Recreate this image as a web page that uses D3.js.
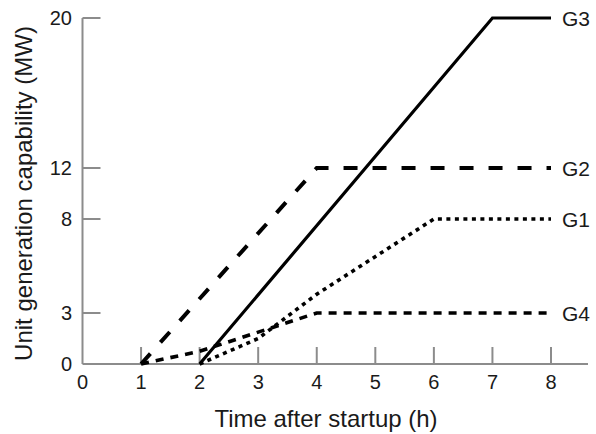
<!DOCTYPE html>
<html>
<head>
<meta charset="utf-8">
<script src="https://cdn.jsdelivr.net/npm/d3@7"></script>
<style>
  html, body { margin: 0; padding: 0; background: #fff; }
  svg { display: block; }
  text { font-family: "Liberation Sans", Arial, Helvetica, sans-serif; fill: #1a1a1a; }
</style>
</head>
<body>
<svg id="chart" width="596" height="434"></svg>
<script>
// ---- data ----
const xTicks = [0, 1, 2, 3, 4, 5, 6, 7, 8];
const yTicks = [0, 3, 8, 12, 20];
const seriesNames = ["G3", "G2", "G1", "G4"];
const g3 = [[2, 0], [7, 20], [8, 20]];
const g2 = [[1, 0], [4, 12], [8, 12]];
const g1 = [[2, 0], [3, 1.5], [4, 4], [6, 8], [8, 8]];
const g4 = [[1, 0], [2, 0.75], [4, 3], [8, 3]];
const xLabel = "Time after startup (h)";
const yLabel = "Unit generation capability (MW)";

// ---- layout ----
const svg = d3.select("#chart");
const x = d3.scaleLinear().domain([0, 8]).range([82.5, 551]);
// the original axis is not evenly spaced; piecewise scale through tick positions
const y = d3.scaleLinear().domain(yTicks).range([364, 313, 219, 168, 18]);

const axisColor = "#8c8c8c";

// axes lines
svg.append("line").attr("x1", x(0)).attr("x2", 588).attr("y1", y(0)).attr("y2", y(0))
  .attr("stroke", axisColor).attr("stroke-width", 2);
svg.append("line").attr("x1", x(0)).attr("x2", x(0)).attr("y1", y(0)).attr("y2", y(20))
  .attr("stroke", axisColor).attr("stroke-width", 2);

// x ticks (inward, upward)
svg.append("g").selectAll("line").data(xTicks.filter(d => d > 0)).join("line")
  .attr("x1", d => x(d)).attr("x2", d => x(d))
  .attr("y1", y(0)).attr("y2", y(0) - 17)
  .attr("stroke", axisColor).attr("stroke-width", 2);
svg.append("g").selectAll("text").data(xTicks).join("text")
  .attr("x", d => x(d)).attr("y", 389)
  .attr("text-anchor", "middle").attr("font-size", 20)
  .text(d => d);

// y ticks (inward, rightward)
svg.append("g").selectAll("line").data(yTicks.filter(d => d > 0)).join("line")
  .attr("x1", x(0)).attr("x2", x(0) + 18)
  .attr("y1", d => y(d)).attr("y2", d => y(d))
  .attr("stroke", axisColor).attr("stroke-width", 2);
svg.append("g").selectAll("text").data(yTicks).join("text")
  .attr("x", 72).attr("y", d => y(d))
  .attr("dy", "0.36em")
  .attr("text-anchor", "end").attr("font-size", 20)
  .text(d => d);

// titles
svg.append("text").attr("x", 326).attr("y", 427)
  .attr("text-anchor", "middle").attr("font-size", 24).text(xLabel);
svg.append("text").attr("transform", "translate(32,193.5) rotate(-90)")
  .attr("text-anchor", "middle").attr("font-size", 24).text(yLabel);

// series
const line = d3.line().x(d => x(d[0])).y(d => y(d[1]));
const seriesData = [g3, g2, g1, g4];
const styles = [
  { w: 3.2, dash: null, cap: "butt" },
  { w: 4, dash: "14 15", cap: "butt" },
  { w: 3.6, dash: "4 4.5", cap: "butt" },
  { w: 3.6, dash: "8 7", cap: "butt" }
];
seriesData.forEach((s, i) => {
  const p = svg.append("path").datum(s).attr("d", line)
    .attr("fill", "none").attr("stroke", "#000")
    .attr("stroke-width", styles[i].w)
    .attr("stroke-linejoin", "miter")
    .attr("stroke-linecap", styles[i].cap);
  if (styles[i].dash) p.attr("stroke-dasharray", styles[i].dash);
});

// end labels
svg.append("g").selectAll("text").data(seriesNames).join("text")
  .attr("x", 562)
  .attr("y", (d, i) => y(seriesData[i][seriesData[i].length - 1][1]))
  .attr("dy", "0.36em").attr("font-size", 21)
  .text(d => d);
</script>
</body>
</html>
